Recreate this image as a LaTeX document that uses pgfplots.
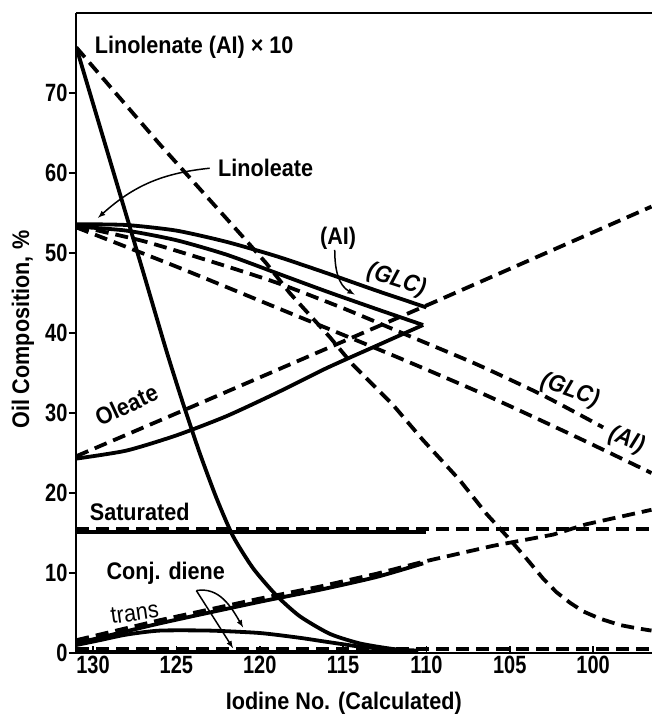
\documentclass[border=0pt]{standalone}
\usepackage{fontspec}
\setmainfont{Liberation Sans}[FakeStretch=0.9]
\newfontfamily\tickfont{Liberation Sans}[FakeStretch=0.8]
\usepackage{pgfplots}
\pgfplotsset{compat=1.18}
\newcommand\lab{\fontsize{24}{28}\selectfont\bfseries}
\begin{document}
\begin{tikzpicture}
\begin{axis}[
  scale only axis, width=576pt, height=640pt,
  x dir=reverse, xmin=96.47, xmax=131.02, ymin=0, ymax=80,
  axis line style={draw=none},
  xtick={100,105,...,130}, ytick={0,10,...,70},
  xtick pos=bottom, ytick pos=left,
  tick style={black, line width=1.6pt},
  major tick length=7pt,
  ytick style={xshift=-7pt},
  yticklabel style={xshift=-5pt},
  /pgf/number format/assume math mode=true,
  tick label style={font=\tickfont\fontsize{25}{28}\selectfont\bfseries},
  xlabel={Iodine No. (Calculated)},
  ylabel={Oil Composition, \%},
  xlabel style={font=\lab, at={(axis description cs:0.465,-0.078)}, anchor=center},
  ylabel style={font=\lab, at={(axis description cs:-0.092,0.505)}, anchor=center},
  no markers,
  solidl/.style={black, line width=3.8pt, line join=round},
  dashl/.style={black, line width=3.8pt, dash pattern=on 13pt off 7pt},
]
% Linolenate (AI) x 10, solid
\addplot[solidl, smooth, tension=0.4] coordinates {(131,75.7) (129,61.7) (127,47.7) (125.6,37.8) (124.6,31.2) (123.6,25.0) (122.6,19.4) (121.6,14.6) (120.4,10.6) (119,7.2) (117.6,4.6) (115.8,2.4) (114,1.2) (112,0.5) (110.5,0.3)};
% Linolenate dashed
\addplot[dashl] coordinates {(131,75.7) (126,63.6) (121,52) (119.6,48.7) (118.2,45) (115.8,39.5) (114.4,36) (112,31) (110.2,26.6) (108,21.6) (106.4,17.4) (105,14.2) (104,11.8) (103,9.3) (102.2,7.6) (101.4,6.3) (100.6,5.2) (99.6,4.3) (98.4,3.5) (97.4,3.1) (96.5,2.8)};
% Linoleate solid (GLC)
\addplot[solidl, smooth, tension=0.4] coordinates {(131,53.6) (128,53.5) (125,52.8) (122,51.4) (119,49.6) (116,47.5) (113,45.3) (110,43.2)};
% Linoleate solid (AI)
\addplot[solidl, smooth, tension=0.4] coordinates {(131,53.3) (128,52.8) (125,51.6) (122,49.8) (119,47.5) (116,45.2) (113,43.0) (110.2,41.0)};
% Linoleate dashed (GLC)
\addplot[dashl, smooth, tension=0.4] coordinates {(131,53.4) (127,51.5) (123,49.0) (119,46.3) (115,43.1) (111,39.6) (107,36.1) (103,32.2) (99.4,28.2)};
% Linoleate dashed (AI)
\addplot[dashl, smooth, tension=0.4] coordinates {(131,53.2) (125,48.3) (118.2,42.5) (112,37.2) (106.4,32.2) (101,27) (96.5,22.5)};
% Oleate solid
\addplot[solidl, smooth, tension=0.4] coordinates {(131,24.3) (128,25.3) (125,27.2) (122,29.6) (119,32.5) (116,35.6) (113,38.4) (110.2,41.0)};
% Oleate dashed
\addplot[dashl] coordinates {(131,24.6) (123.6,31.2) (116.6,37.5) (109.6,43.8) (96.5,55.8)};
% Saturated
\addplot[solidl] coordinates {(131,15.1) (110,15.1)};
\addplot[dashl] coordinates {(131,15.5) (96.5,15.5)};
% trans
\addplot[solidl, smooth, tension=0.4] coordinates {(131,1.2) (126,3.7) (120,6.4) (116.4,7.9) (113,9.5) (110.2,11.2)};
\addplot[dashl] coordinates {(131,1.6) (126,4.1) (120,6.8) (116.4,8.3) (113,9.9) (110.2,11.4) (106,13.4) (102.4,14.8) (100.4,16.1) (96.5,17.9)};
% Conj. diene
\addplot[solidl, smooth, tension=0.4] coordinates {(131,1.0) (129.6,1.6) (128,2.3) (126,2.8) (123,2.8) (120,2.5) (117.6,1.9) (116,1.4) (114,0.8) (112,0.4) (110.5,0.2)};
\addplot[solidl] coordinates {(131,0.2) (111.5,0.2)};
\addplot[dashl] coordinates {(131,0.55) (96.5,0.55)};
% annotations
\node[font=\lab, anchor=west] at (axis cs:130.1,75.7) {Linolenate (AI) × 10};
\node[font=\lab, anchor=west] at (axis cs:122.7,60.6) {Linoleate};
\draw[line width=1.5pt, -latex] (axis cs:123.0,60.6) to[bend right=18] (axis cs:129.7,54.4);
\node[font=\lab] at (axis cs:115.3,51.8) {(AI)};
\draw[line width=1.5pt, -latex] (axis cs:115.5,50.4) to[out=-90,in=150] (axis cs:114.3,44.8);
\node[font=\lab\itshape, rotate=-18] at (axis cs:111.8,46.6) {(GLC)};
\node[font=\lab\itshape, rotate=-20] at (axis cs:101.4,32.8) {(GLC)};
\node[font=\lab\itshape, rotate=-22] at (axis cs:98.0,26.6) {(AI)};
\node[font=\lab, rotate=25] at (axis cs:128.0,31.0) {Oleate};
\node[font=\lab] at (axis cs:127.2,17.6) {Saturated};
\node[font=\lab, anchor=west] at (axis cs:129.4,10.0) {Conj. diene};
\draw[line width=1.5pt, -latex] (axis cs:123.8,7.8) to[out=10,in=120] (axis cs:121.0,3.2);
\draw[line width=1.5pt, -latex] (axis cs:123.8,7.8) -- (axis cs:121.6,0.6);
\node[font=\fontsize{24}{28}\selectfont, rotate=8] at (axis cs:127.5,5.0) {trans};
\end{axis}
\draw[line width=2.4pt] (current axis.north west) -- (current axis.south west) -- (current axis.south east);
\draw[line width=1.6pt] (current axis.north west) -- (current axis.north east);
\pgfresetboundingbox
\path (current axis.south west) ++(-76pt,-63pt) rectangle ++(652pt,716pt);
\end{tikzpicture}
\end{document}
